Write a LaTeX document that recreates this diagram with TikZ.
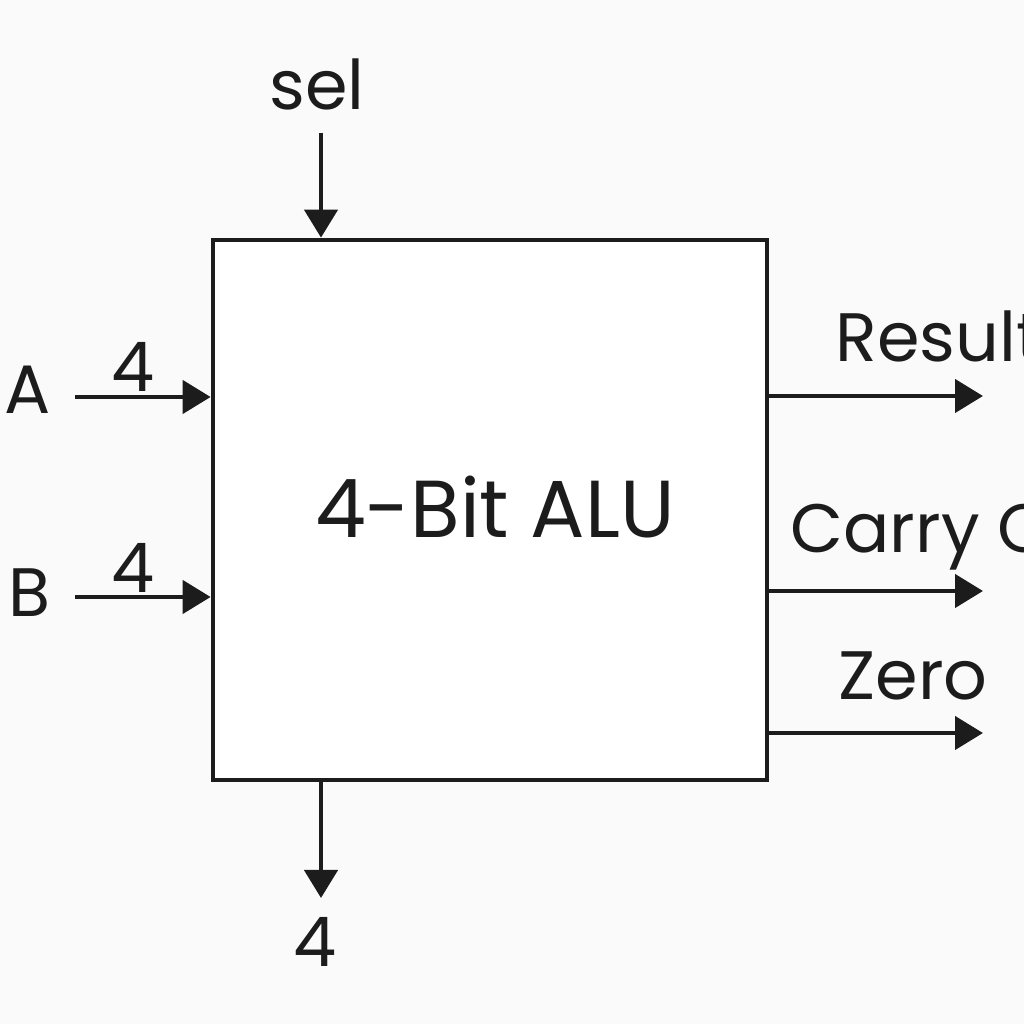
\documentclass[tikz,border=0pt]{standalone}
\usepackage{fontspec}
\setmainfont{Poppins}
\usetikzlibrary{arrows.meta,positioning,calc}
\definecolor{aluink}{RGB}{28,28,28}
\definecolor{alupaper}{RGB}{250,250,250}
\tikzset{
  alubox/.style={draw=aluink, line width=1.35pt, fill=white,
    minimum width=5.54cm, minimum height=5.40cm, inner sep=0pt},
  sig/.style={-{Triangle[length=2.8mm,width=3.3mm]}, line width=1.3pt, draw=aluink},
  lbl/.style={text=aluink, inner sep=0pt, font=\fontsize{19.5}{23}\selectfont}
}

\begin{document}
\begin{tikzpicture}
  \useasboundingbox[fill=alupaper] (0,0) rectangle (10.24,10.24);

  % the ALU block
  \node[alubox] (alu) at (4.90,5.14) {};
  \node[lbl, font=\fontsize{23}{27}\selectfont] (title) at (4.95,5.17) {4-Bit ALU};

  % operand inputs
  \node[lbl] (opa) at (0.28,6.34) {A};
  \node[lbl] (opb) at (0.30,4.31) {B};
  \coordinate (ina) at (0.75,6.27);
  \coordinate (inb) at (0.75,4.27);
  \draw[sig] (ina) -- (ina -| alu.west);
  \draw[sig] (inb) -- (inb -| alu.west);
  \node[lbl] (wa) at (1.33,6.57) {4};
  \node[lbl] (wb) at (1.33,4.56) {4};

  % select input
  \node[lbl, anchor=base] (sel) at (3.17,9.14) {sel};
  \coordinate (selin) at (3.21,8.91);
  \draw[sig] (selin) -- (selin |- alu.north);

  % bottom output
  \coordinate (outw) at (3.21,1.26);
  \draw[sig] (outw |- alu.south) -- (outw);
  \node[lbl] (wout) at (3.15,0.82) {4};

  % flag and result outputs
  \coordinate (res) at (9.83,6.28);
  \coordinate (cout) at (9.83,4.33);
  \coordinate (zflag) at (9.83,2.91);
  \draw[sig] (alu.east |- res) -- (res);
  \draw[sig] (alu.east |- cout) -- (cout);
  \draw[sig] (alu.east |- zflag) -- (zflag);
  \node[lbl, anchor=base west] (lres) at (8.35,6.62) {Result};
  \node[lbl, anchor=base west] (lcout) at (7.90,4.71) {Carry Out};
  \node[lbl, anchor=base west] (lzero) at (8.38,3.24) {Zero};
\end{tikzpicture}
\end{document}
